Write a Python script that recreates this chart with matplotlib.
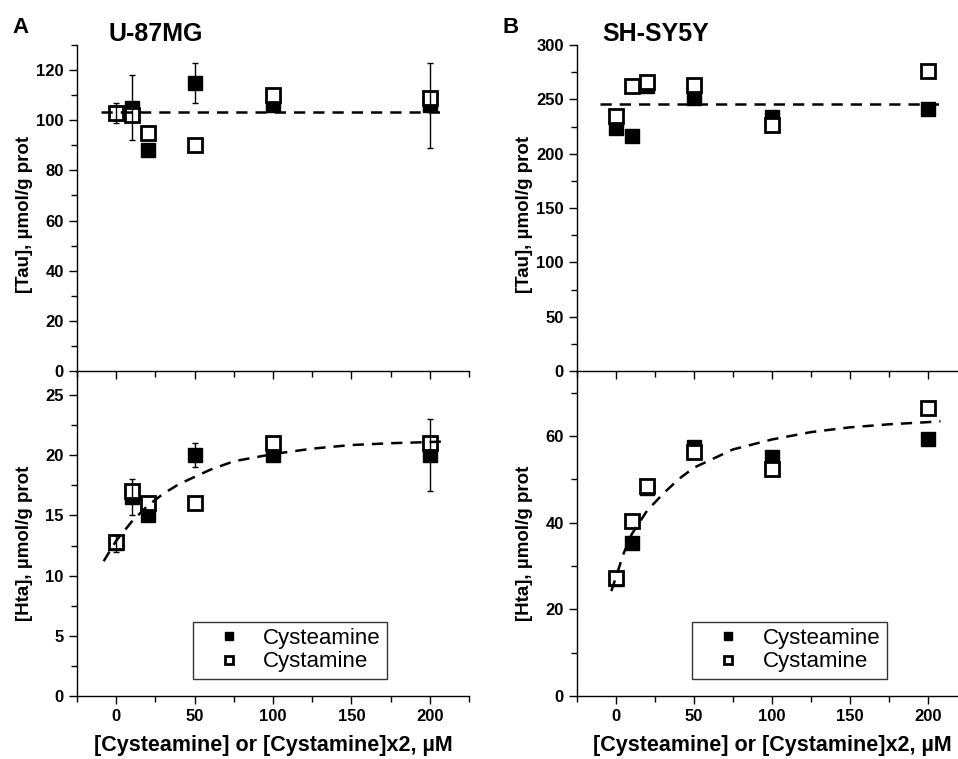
import matplotlib
matplotlib.use("Agg")
import matplotlib.pyplot as plt
from matplotlib.ticker import MultipleLocator

plt.rcParams['font.family'] = ['Liberation Sans', 'DejaVu Sans']

conc = [0, 10, 20, 50, 100, 200]

# U-87MG
u87_tau_cysteamine = [103, 105, 88, 115, 106, 106]
u87_tau_cysteamine_err = [4, 13, 0, 8, 0, 17]
u87_tau_cystamine = [103, 102, 95, 90, 110, 109]
u87_tau_fit_x = [-10, 207]
u87_tau_fit_y = [103.4, 103.4]

u87_hta_cysteamine = [12.7, 16.5, 15, 20, 20, 20]
u87_hta_cysteamine_err = [0.7, 1.5, 0, 1, 0, 3]
u87_hta_cystamine = [12.8, 17, 16, 16, 21, 21]
u87_hta_fit_x = [-8, 0, 10, 20, 30, 40, 50, 60, 75, 100, 125, 150, 175, 200, 211]
u87_hta_fit_y = [11.2, 12.9, 14.5, 15.8, 16.8, 17.6, 18.2, 18.8, 19.5, 20.1, 20.55,
                 20.85, 21.0, 21.1, 21.15]

# SH-SY5Y
sh_tau_cysteamine = [224, 216, 262, 251, 234, 241]
sh_tau_cystamine = [235, 262, 266, 263, 226, 276]
sh_tau_fit_x = [-10, 207]
sh_tau_fit_y = [245.4, 245.4]

sh_hta_cysteamine = [27, 35.3, 48, 57.5, 55.2, 59.3]
sh_hta_cystamine = [27.3, 40.3, 48.4, 56.4, 52.4, 66.4]
sh_hta_fit_x = [-3, 0, 5, 10, 20, 30, 40, 50, 75, 100, 125, 150, 175, 200, 208]
sh_hta_fit_y = [24.2, 27.5, 33.0, 37.3, 42.8, 46.6, 50.0, 52.7, 56.9, 59.2, 60.9,
                62.0, 62.7, 63.2, 63.4]

xlabel = '[Cysteamine] or [Cystamine]x2, \u00b5M'

fig = plt.figure(figsize=(9.58, 7.59), dpi=100)

def style_axes(ax, ymax, major, minor, show_x):
    ax.set_xlim(-25, 225)
    ax.set_ylim(0, ymax)
    ax.spines['top'].set_visible(False)
    ax.spines['right'].set_visible(False)
    for s in ['left', 'bottom']:
        ax.spines[s].set_linewidth(1.0)
    ax.xaxis.set_major_locator(MultipleLocator(50))
    ax.xaxis.set_minor_locator(MultipleLocator(25))
    ax.yaxis.set_major_locator(MultipleLocator(major))
    ax.yaxis.set_minor_locator(MultipleLocator(minor))
    ax.tick_params(which='major', direction='out', length=6, width=1, labelsize=12)
    ax.tick_params(which='minor', direction='out', length=4, width=1)
    if not show_x:
        ax.tick_params(axis='x', labelbottom=False)
    for lab in ax.get_xticklabels() + ax.get_yticklabels():
        lab.set_fontweight('bold')

def draw(ax, filled, opened, fit_x, fit_y, err=None):
    ax.plot(conc, filled, 's', color='black', ms=10.5, zorder=3, label='Cysteamine')
    ax.plot(conc, opened, 's', mfc='white', mec='black', mew=2, ms=10.5, zorder=4,
            label='Cystamine')
    if err is not None:
        xs = [x for x, e in zip(conc, err) if e > 0]
        ys = [y for y, e in zip(filled, err) if e > 0]
        es = [e for e in err if e > 0]
        ax.errorbar(xs, ys, yerr=es, fmt='none', ecolor='black', elinewidth=1,
                    capsize=2.5, capthick=1, zorder=5)
    ax.plot(fit_x, fit_y, color='black', lw=1.8, ls=(0, (4.5, 3.2)), zorder=6)

top_b, top_h = 0.5112, 0.4295
bot_b, bot_h = 0.0830, 0.4282
left_l, left_w = 77 / 958, 392 / 958
right_l, right_w = 577 / 958, 390 / 958

ax1 = fig.add_axes([left_l, top_b, left_w, top_h])
ax2 = fig.add_axes([left_l, bot_b, left_w, bot_h])
ax3 = fig.add_axes([right_l, top_b, right_w, top_h])
ax4 = fig.add_axes([right_l, bot_b, right_w, bot_h])
# lower panels are see-through so the tick marks of the upper ones stay visible
for ax in (ax2, ax4):
    ax.patch.set_visible(False)

draw(ax1, u87_tau_cysteamine, u87_tau_cystamine, u87_tau_fit_x, u87_tau_fit_y,
     u87_tau_cysteamine_err)
draw(ax2, u87_hta_cysteamine, u87_hta_cystamine, u87_hta_fit_x, u87_hta_fit_y,
     u87_hta_cysteamine_err)
draw(ax3, sh_tau_cysteamine, sh_tau_cystamine, sh_tau_fit_x, sh_tau_fit_y)
draw(ax4, sh_hta_cysteamine, sh_hta_cystamine, sh_hta_fit_x, sh_hta_fit_y)

style_axes(ax1, 130, 20, 10, False)
style_axes(ax2, 27, 5, 2.5, True)
style_axes(ax3, 300, 50, 25, False)
style_axes(ax4, 75, 20, 10, True)

for ax, lab, yc in [(ax1, '[Tau], \u00b5mol/g prot', 0.48),
                    (ax2, '[Hta], \u00b5mol/g prot', 0.47),
                    (ax3, '[Tau], \u00b5mol/g prot', 0.48),
                    (ax4, '[Hta], \u00b5mol/g prot', 0.47)]:
    ax.set_ylabel(lab, fontsize=13.5, fontweight='bold')
    ax.yaxis.set_label_coords(-0.113, yc)

for ax in (ax2, ax4):
    ax.set_xlabel(xlabel, fontsize=15.5, fontweight='bold')
    ax.xaxis.set_label_coords(0.5, -0.12)
    leg = ax.legend(loc='lower left', bbox_to_anchor=(0.296, 0.052), borderaxespad=0,
                    fontsize=16, markerscale=0.6, frameon=True, fancybox=False,
                    handlelength=2.6, handletextpad=0.25, borderpad=0.3,
                    labelspacing=0.1)
    leg.get_frame().set_edgecolor('black')
    leg.get_frame().set_linewidth(1.0)

fig.text(12 / 958, 1 - 17 / 759, 'A', fontsize=16, fontweight='bold', va='top')
fig.text(108 / 958, 1 - 22 / 759, 'U-87MG', fontsize=18, fontweight='bold', va='top')
fig.text(503 / 958, 1 - 17 / 759, 'B', fontsize=16, fontweight='bold', va='top')
fig.text(602 / 958, 1 - 22 / 759, 'SH-SY5Y', fontsize=18, fontweight='bold', va='top')

fig.savefig('out.png', dpi=100)
